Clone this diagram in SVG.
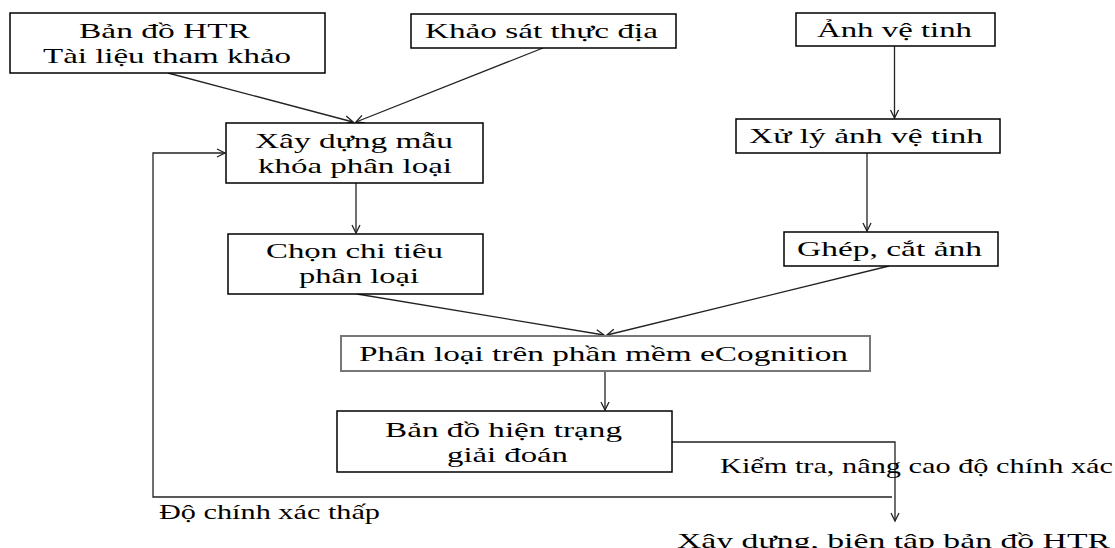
<svg xmlns="http://www.w3.org/2000/svg" width="1115" height="548" viewBox="0 0 1115 548">
<style>
.box{fill:#fff;stroke:#000;stroke-width:1.5}
.box2{fill:#fff;stroke:#777;stroke-width:2}
.t{font-family:"Liberation Serif","Times New Roman",serif;font-size:22px;fill:#000}
.c{fill:none;stroke:#222;stroke-width:1.3}
</style>
<defs>
<marker id="ah" markerWidth="12" markerHeight="12" refX="9" refY="5" orient="auto" markerUnits="userSpaceOnUse">
<path d="M1,1 L9,5 L1,9" fill="none" stroke="#222" stroke-width="1.3"/>
</marker>
</defs>
<rect width="1115" height="548" fill="#fff"/>
<g id="connectors">
<line class="c" x1="168" y1="73" x2="353" y2="122" marker-end="url(#ah)"/>
<line class="c" x1="543" y1="48" x2="356" y2="122" marker-end="url(#ah)"/>
<line class="c" x1="894.5" y1="46" x2="894.5" y2="118" marker-end="url(#ah)"/>
<line class="c" x1="356" y1="183" x2="356" y2="233" marker-end="url(#ah)"/>
<line class="c" x1="867" y1="153" x2="867" y2="231" marker-end="url(#ah)"/>
<line class="c" x1="357" y1="294" x2="604" y2="335" marker-end="url(#ah)"/>
<line class="c" x1="889" y1="266" x2="607" y2="335" marker-end="url(#ah)"/>
<line class="c" x1="605" y1="371" x2="605" y2="410" marker-end="url(#ah)"/>
<polyline class="c" points="672,442 895,442 895,521" marker-end="url(#ah)"/>
<polyline class="c" points="892,497 153,497 153,153 225,153" marker-end="url(#ah)"/>
</g>
<g id="n-banDoHTR">
<rect class="box" x="10" y="13" width="315" height="60"/>
<text class="t" x="79" y="38" textLength="171" lengthAdjust="spacingAndGlyphs">Bản đồ HTR</text>
<text class="t" x="43" y="63" textLength="248" lengthAdjust="spacingAndGlyphs">Tài liệu  tham khảo</text>
</g>
<g id="n-khaoSat">
<rect class="box" x="411" y="14" width="265" height="34"/>
<text class="t" x="425" y="38" textLength="233" lengthAdjust="spacingAndGlyphs">Khảo sát thực địa</text>
</g>
<g id="n-anhVeTinh">
<rect class="box" x="796" y="13" width="199" height="33"/>
<text class="t" x="817" y="37" textLength="155" lengthAdjust="spacingAndGlyphs">Ảnh vệ tinh</text>
</g>
<g id="n-xayDungMau">
<rect class="box" x="226" y="123" width="257" height="60"/>
<text class="t" x="255" y="148" textLength="198" lengthAdjust="spacingAndGlyphs">Xây dựng mẫu</text>
<text class="t" x="258" y="173" textLength="194" lengthAdjust="spacingAndGlyphs">khóa phân loại</text>
</g>
<g id="n-xuLy">
<rect class="box" x="736" y="119" width="264" height="34"/>
<text class="t" x="749" y="143" textLength="234" lengthAdjust="spacingAndGlyphs">Xử lý ảnh vệ tinh</text>
</g>
<g id="n-chonChiTieu">
<rect class="box" x="228" y="234" width="255" height="60"/>
<text class="t" x="266" y="258" textLength="177" lengthAdjust="spacingAndGlyphs">Chọn chi tiêu</text>
<text class="t" x="299" y="283" textLength="120" lengthAdjust="spacingAndGlyphs">phân loại</text>
</g>
<g id="n-ghepCat">
<rect class="box" x="784" y="232" width="214" height="34"/>
<text class="t" x="797" y="256" textLength="185" lengthAdjust="spacingAndGlyphs">Ghép, cắt ảnh</text>
</g>
<g id="n-phanLoai">
<rect class="box2" x="341" y="336" width="529" height="35"/>
<text class="t" x="359" y="361" textLength="489" lengthAdjust="spacingAndGlyphs">Phân loại trên phần mềm eCognition</text>
</g>
<g id="n-banDoHienTrang">
<rect class="box" x="337" y="411" width="335" height="61"/>
<text class="t" x="385" y="437" textLength="237" lengthAdjust="spacingAndGlyphs">Bản đồ hiện trạng</text>
<text class="t" x="447" y="462" textLength="121" lengthAdjust="spacingAndGlyphs">giải  đoán</text>
</g>
<g id="labels">
<text class="t" x="720" y="473" textLength="393" lengthAdjust="spacingAndGlyphs">Kiểm tra, nâng  cao độ chính xác</text>
<text class="t" x="159" y="519" textLength="221" lengthAdjust="spacingAndGlyphs">Độ chính xác thấp</text>
</g>
<g id="n-xayDungBienTap">
<text class="t" x="677" y="548" textLength="433" lengthAdjust="spacingAndGlyphs">Xây dựng, biên tập bản đồ HTR</text>
</g>
</svg>
